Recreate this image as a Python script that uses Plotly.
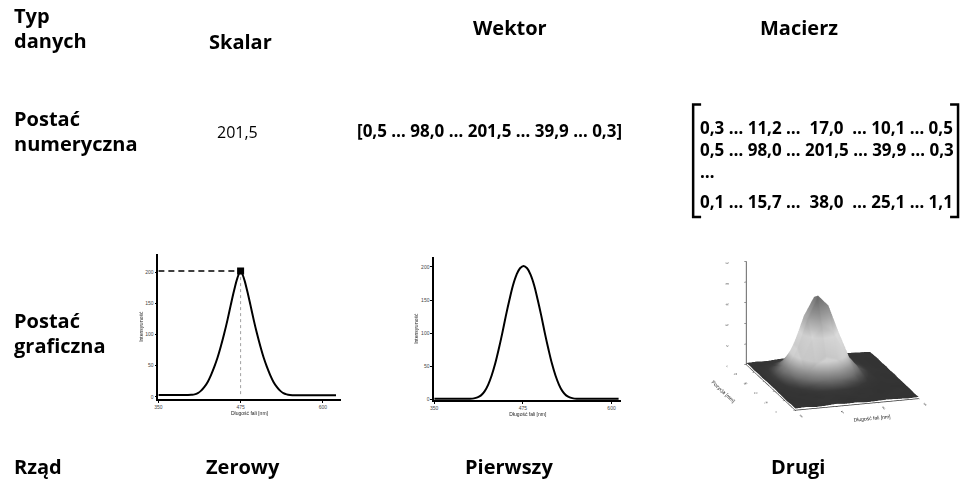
import plotly.graph_objects as go

W, H = 969, 492

# ---- data -------------------------------------------------------------
row_labels = [["Typ", "danych"], ["Postać", "numeryczna"], ["Postać", "graficzna"], ["Rząd"]]
type_names = ["Skalar", "Wektor", "Macierz"]
order_names = ["Zerowy", "Pierwszy", "Drugi"]

scalar_value = "201,5"
vector_text = "[0,5 … 98,0 … 201,5 … 39,9 … 0,3]"
matrix_rows = [
    "0,3 … 11,2 …  17,0  … 10,1 … 0,5",
    "0,5 … 98,0 … 201,5 … 39,9 … 0,3",
    "…",
    "0,1 … 15,7 …  38,0  … 25,1 … 1,1",
]

# spectrum used for the scalar panel (peak value marked)
scalar_x = [350, 360, 370, 380, 390, 400, 405, 410, 415, 420, 425, 430, 435, 440, 445,
            450, 455, 460, 465, 470, 475, 480, 485, 490, 495, 500, 505, 510, 515, 520,
            525, 530, 535, 540, 545, 550, 560, 570, 580, 590, 600, 610, 620]
scalar_y = [3, 3, 3, 3, 3, 3.5, 4, 6, 10, 16, 24, 35, 48, 63, 81,
            101, 123, 147, 170, 190, 201.5, 190, 170, 147, 123, 101, 81, 63, 48, 35,
            24, 16, 10, 6, 4, 3, 2.5, 2.5, 2.5, 2.5, 2.5, 2.5, 2.5]
peak_x, peak_y = 475, 201.5

# spectrum used for the vector panel
vector_x = [350, 360, 370, 380, 390, 400, 406, 411, 416, 421, 426, 431, 436, 441, 446,
            451, 456, 461, 466, 471, 476, 481, 486, 491, 496, 501, 506, 511, 516, 521,
            526, 531, 536, 541, 546, 551, 560, 570, 580, 590, 600, 610]
vector_y = [1, 1, 1, 1, 1, 1, 1.5, 3, 6, 12, 22, 36, 54, 76, 100,
            126, 150, 172, 188, 198, 201.5, 198, 188, 172, 150, 126, 100, 76, 54, 36,
            22, 12, 6, 3, 1.5, 1, 1, 1, 1, 1, 1, 1]

# 2-D spectral map used for the matrix panel
map_x = [300, 325, 350, 375, 400, 425, 450, 475, 500, 525, 550, 575, 600]
map_y = [0, 40, 80, 120, 160, 200, 240, 280, 320, 360, 400, 440, 480]
map_z = [
    [4, 5, 3, 4, 6, 4, 5, 3, 4, 5, 4, 3, 4],
    [5, 4, 4, 6, 5, 4, 3, 5, 4, 4, 5, 4, 3],
    [3, 4, 5, 4, 6, 5, 6, 4, 5, 3, 4, 5, 4],
    [4, 5, 4, 6, 8, 9, 8, 6, 5, 4, 4, 3, 4],
    [4, 5, 7, 12, 20, 25, 23, 15, 9, 5, 4, 5, 4],
    [5, 6, 13, 29, 53, 69, 61, 39, 18, 8, 5, 4, 4],
    [5, 8, 22, 57, 107, 139, 124, 77, 33, 12, 5, 4, 5],
    [5, 10, 30, 79, 150, 201.5, 175, 107, 46, 16, 6, 5, 4],
    [4, 10, 29, 76, 145, 189, 168, 103, 44, 15, 6, 4, 5],
    [5, 8, 20, 51, 96, 124, 111, 68, 30, 11, 5, 4, 4],
    [4, 6, 11, 25, 44, 57, 51, 32, 16, 7, 5, 4, 5],
    [5, 4, 6, 10, 16, 20, 18, 13, 8, 5, 4, 5, 4],
    [4, 5, 4, 6, 7, 8, 7, 6, 5, 4, 5, 4, 3],
]


def px(x):
    return x / W


def py(y):
    return 1 - y / H


fig = go.Figure()

# scalar panel
fig.add_trace(go.Scatter(x=scalar_x, y=scalar_y, mode="lines", line=dict(color="black", width=2, shape="spline"),
                         xaxis="x", yaxis="y", showlegend=False))
fig.add_trace(go.Scatter(x=[350, peak_x], y=[peak_y, peak_y], mode="lines",
                         line=dict(color="black", width=1.5, dash="6px,4px"), xaxis="x", yaxis="y", showlegend=False))
fig.add_trace(go.Scatter(x=[peak_x, peak_x], y=[peak_y, 0], mode="lines",
                         line=dict(color="#888", width=0.8, dash="dot"), xaxis="x", yaxis="y", showlegend=False))
fig.add_trace(go.Scatter(x=[peak_x], y=[peak_y], mode="markers", marker=dict(symbol="square", size=7, color="black"),
                         xaxis="x", yaxis="y", showlegend=False))

# vector panel
fig.add_trace(go.Scatter(x=vector_x, y=vector_y, mode="lines", line=dict(color="black", width=2, shape="spline"),
                         xaxis="x2", yaxis="y2", showlegend=False))

# matrix panel
fig.add_trace(go.Surface(
    x=map_x, y=map_y, z=map_z, scene="scene", showscale=False, cmin=0, cmax=201.5,
    colorscale=[[0, "#2e2e2e"], [0.04, "#383838"], [0.12, "#727272"], [0.3, "#cfcfcf"],
                [0.55, "#dedede"], [0.8, "#9c9c9c"], [1, "#6e6e6e"]],
    lighting=dict(ambient=0.85, diffuse=0.4, specular=0.05, roughness=0.9),
))

tickfont = dict(family="Liberation Sans", size=5, color="#444")
titlefont = dict(family="Liberation Sans", size=5, color="#222")
axis2d = dict(showline=True, linecolor="black", linewidth=1.5, ticks="outside", ticklen=2,
              tickcolor="black", showgrid=False, zeroline=False, tickfont=tickfont)

layout = dict(
    width=W, height=H, margin=dict(l=0, r=0, t=0, b=0),
    paper_bgcolor="white", plot_bgcolor="white", showlegend=False,
    xaxis=dict(domain=[px(155), px(338)], range=[350, 627], anchor="y", tickvals=[350, 475, 600],
               title=dict(text="Długość fali [nm]", font=titlefont, standoff=2), **axis2d),
    yaxis=dict(domain=[py(401), py(255)], range=[-4, 229], anchor="x", tickvals=[0, 50, 100, 150, 200],
               title=dict(text="Intensywność", font=titlefont, standoff=2), **axis2d),
    xaxis2=dict(domain=[px(432), px(620)], range=[350, 614], anchor="y2", tickvals=[350, 475, 600],
                title=dict(text="Długość fali [nm]", font=titlefont, standoff=2), **axis2d),
    yaxis2=dict(domain=[py(402), py(258)], range=[-1.5, 215], anchor="x2", tickvals=[0, 50, 100, 150, 200],
                title=dict(text="Intensywność", font=titlefont, standoff=2), **axis2d),
)

tickfont3d = dict(family="Liberation Sans", size=5, color="#222")
axis3d = dict(showbackground=False, showgrid=False, zeroline=False, showline=True, linecolor="#333",
              linewidth=1.5, ticks="outside", ticklen=2, tickcolor="#333", tickfont=tickfont3d,
              showspikes=False)
layout["scene"] = dict(
    domain=dict(x=[px(700), px(964)], y=[py(424), py(239)]),
    xaxis=dict(range=[300, 600], dtick=100, title=dict(text="Długość fali [nm]", font=titlefont), **axis3d),
    yaxis=dict(range=[0, 480], dtick=100, title=dict(text="Pozycja [mm]", font=titlefont), **axis3d),
    zaxis=dict(range=[0, 250], dtick=50, title=dict(text="Intensywność", font=titlefont), **axis3d),
    aspectmode="manual", aspectratio=dict(x=1.41, y=1.76, z=1.175),
    camera=dict(eye=dict(x=-0.55, y=-1.735, z=0.564), center=dict(x=0, y=0, z=0),
                projection=dict(type="orthographic")),
    bgcolor="white",
)
fig.update_layout(**layout)

# ---- table text ---------------------------------------------------------
head = dict(family="Open Sans", size=20, color="black")
body = dict(family="Open Sans", size=17, color="black")
annotations = []


def add_text(text, x, y, font, xanchor="center", yanchor="middle"):
    annotations.append(dict(text=text, x=px(x), y=py(y), xref="paper", yref="paper", showarrow=False,
                            font=font, xanchor=xanchor, yanchor=yanchor))


bold = lambda s: "<b>" + s + "</b>"
row_y = [(16, 41), (119, 144), (322, 347), (468,)]
for lines, ys in zip(row_labels, row_y):
    for t, yy in zip(lines, ys):
        add_text(bold(t), 8, yy, head, xanchor="left")

for name, xx, yy in zip(type_names, [237, 508, 798], [42, 28, 28]):
    add_text(bold(name), xx, yy, head)
for name, xx in zip(order_names, [240, 507, 797]):
    add_text(bold(name), xx, 468, head)

add_text(scalar_value, 234, 133, dict(family="Open Sans", size=16, color="black"))
add_text(bold(vector_text), 488, 131, body)
for t, yy in zip(matrix_rows, [128, 150, 172, 202]):
    add_text(bold(t.replace("  ", "&nbsp; ")), 697, yy, body, xanchor="left")

fig.update_layout(annotations=annotations)

# matrix brackets
shapes = []
for xv, d in [(692, 8), (958, -8)]:
    shapes.append(dict(type="path", xref="paper", yref="paper",
                       path=f"M {px(xv + d)} {py(105)} L {px(xv)} {py(105)} L {px(xv)} {py(218)} L {px(xv + d)} {py(218)}",
                       line=dict(color="black", width=2.5)))
fig.update_layout(shapes=shapes)

fig.write_html("out.html")
